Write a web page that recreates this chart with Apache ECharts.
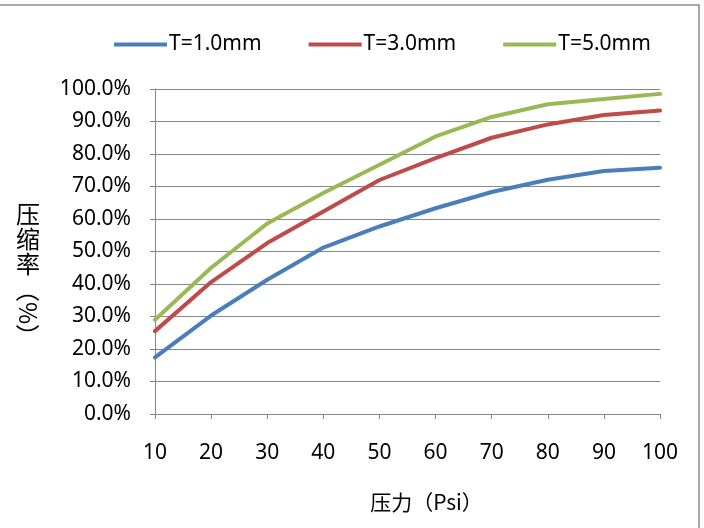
<!DOCTYPE html>
<html><head><meta charset="utf-8">
<script src="https://cdn.jsdelivr.net/npm/echarts@6/dist/echarts.min.js"></script>
<style>html,body{margin:0;padding:0;background:#fff}#c{width:704px;height:528px}</style>
</head><body><div id="c"></div>
<script>
const pressures = ['10','20','30','40','50','60','70','80','90','100'];
const t1 = [17.4, 30.3, 41.3, 51.2, 57.7, 63.3, 68.3, 72.1, 74.8, 75.8];
const t3 = [25.5, 40.6, 52.6, 62.3, 72.0, 78.7, 85.0, 89.1, 92.0, 93.4];
const t5 = [29.0, 45.0, 58.6, 68.0, 76.7, 85.4, 91.4, 95.3, 96.9, 98.5];
const seriesNames = ['T=1.0mm','T=3.0mm','T=5.0mm'];
const colors = ['#4A7EBB','#BE4B48','#98B954'];
const font = 'Noto Sans, sans-serif';
const chart = echarts.init(document.getElementById('c'));
const mk = (name, data, i) => ({
  name, type:'line', data, symbol:'none', smooth:false,
  lineStyle:{width:4, color:colors[i], cap:'round', join:'round'},
  itemStyle:{color:colors[i]}
});
chart.setOption({
  animation:false,
  textStyle:{fontFamily:font},
  legend:{
    top:29, left:109, itemGap:47, itemWidth:53, itemHeight:4, icon:'rect',
    textStyle:{fontSize:21, color:'#000', fontFamily:font, padding:[0,0,0,-3]},
    data:seriesNames
  },
  grid:{left:155, right:44, top:89, bottom:114, containLabel:false},
  xAxis:{
    type:'category', data:pressures, boundaryGap:false,
    name:'压力（Psi）', nameLocation:'middle', nameGap:78,
    nameTextStyle:{fontSize:21, color:'#000', fontFamily:'Noto Sans CJK SC, sans-serif', padding:[0,0,0,38]},
    axisLine:{lineStyle:{color:'#868686', width:1}},
    axisTick:{show:true, length:5, lineStyle:{color:'#868686'}, alignWithLabel:true},
    axisLabel:{fontSize:21, color:'#000', margin:29, fontFamily:font},
    splitLine:{show:false}
  },
  yAxis:{
    type:'value', min:0, max:100, interval:10,
    axisLine:{show:true, lineStyle:{color:'#868686', width:1}},
    axisTick:{show:true, length:5, lineStyle:{color:'#868686'}},
    axisLabel:{fontSize:21, color:'#000', margin:24, fontFamily:font,
      formatter:v=>v.toFixed(1)+'%'},
    splitLine:{show:true, lineStyle:{color:'#868686', width:1}}
  },
  graphic:[
    {type:'rect', shape:{x:-5, y:5, width:704, height:540}, silent:true, z:-1,
     style:{fill:'none', stroke:'#8c8c8c', lineWidth:1.5}},
    {type:'text', left:16, top:201, style:{text:'压\n缩\n率', font:'24px "Noto Sans CJK SC"', fill:'#000', lineHeight:25}},
    {type:'text', x:40, y:278, rotation:-Math.PI/2, style:{text:'（%）', font:'24px "Noto Sans CJK SC"', fill:'#000'}}
  ],
  series:[mk(seriesNames[0], t1, 0), mk(seriesNames[1], t3, 1), mk(seriesNames[2], t5, 2)]
});
</script></body></html>
